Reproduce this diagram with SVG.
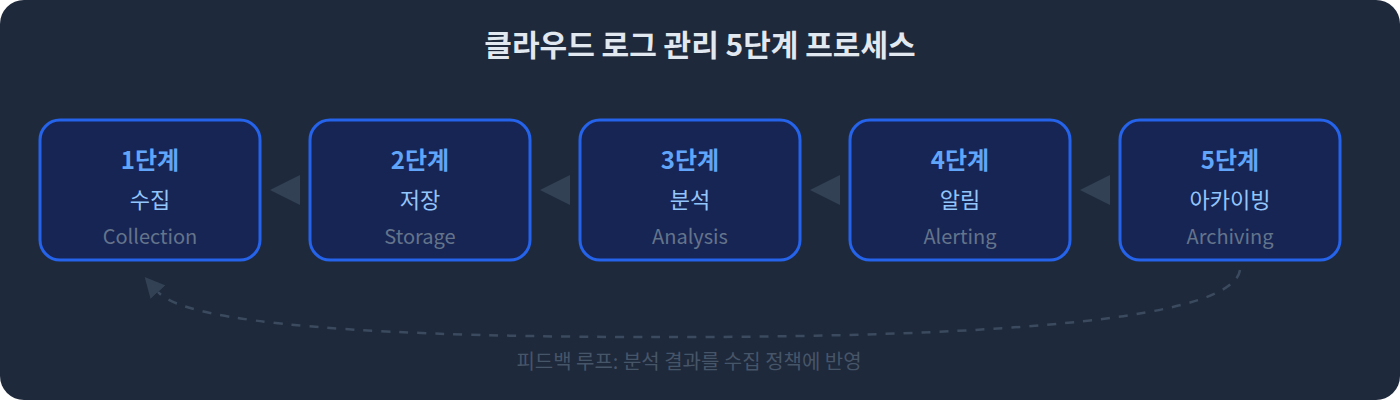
<svg xmlns="http://www.w3.org/2000/svg" width="1400" height="400" viewBox="0 0 1400 400">
<style>
.box{fill:#172554;stroke:#2563eb;stroke-width:3}
.t{font-family:"Noto Sans CJK KR","Noto Sans",sans-serif;text-anchor:middle}
.step{font-size:24px;font-weight:700;fill:#60a5fa}
.ko{font-size:22px;fill:#93c5fd}
.en{font-size:20px;fill:#64748b}
.tri{fill:#334155}
</style>
<defs>
<marker id="ah2" viewBox="0 0 10 10" refX="0" refY="5" markerWidth="20" markerHeight="20" markerUnits="userSpaceOnUse" orient="auto">
<path d="M0,0 L10,5 L0,10 Z" fill="#334155"/>
</marker>
</defs>
<rect x="0" y="0" width="1400" height="400" rx="24" fill="#1e293b"/>
<text class="t" x="700" y="56" font-size="30" font-weight="700" fill="#e2e8f0">클라우드 로그 관리 5단계 프로세스</text>
<g id="node1"><rect class="box" x="40" y="120" width="220" height="140" rx="20"/><text class="t step" x="150" y="169">1단계</text><text class="t ko" x="150" y="208">수집</text><text class="t en" x="150" y="244">Collection</text></g>
<g id="node2"><rect class="box" x="310" y="120" width="220" height="140" rx="20"/><text class="t step" x="420" y="169">2단계</text><text class="t ko" x="420" y="208">저장</text><text class="t en" x="420" y="244">Storage</text></g>
<g id="node3"><rect class="box" x="580" y="120" width="220" height="140" rx="20"/><text class="t step" x="690" y="169">3단계</text><text class="t ko" x="690" y="208">분석</text><text class="t en" x="690" y="244">Analysis</text></g>
<g id="node4"><rect class="box" x="850" y="120" width="220" height="140" rx="20"/><text class="t step" x="960" y="169">4단계</text><text class="t ko" x="960" y="208">알림</text><text class="t en" x="960" y="244">Alerting</text></g>
<g id="node5"><rect class="box" x="1120" y="120" width="220" height="140" rx="20"/><text class="t step" x="1230" y="169">5단계</text><text class="t ko" x="1230" y="208">아카이빙</text><text class="t en" x="1230" y="244">Archiving</text></g>
<g id="connectors">
<polygon class="tri" points="270,190 300,175 300,205"/>
<polygon class="tri" points="540,190 570,175 570,205"/>
<polygon class="tri" points="810,190 840,175 840,205"/>
<polygon class="tri" points="1080,190 1110,175 1110,205"/>
<path d="M1240 270 Q1230 335 700 337 Q200 339 158 292" fill="none" stroke="#3b4a5e" stroke-width="2.5" stroke-dasharray="9 9" marker-end="url(#ah2)"/>
</g>
<text class="t" x="689" y="369" font-size="20" fill="#475569">피드백 루프: 분석 결과를 수집 정책에 반영</text>
</svg>
